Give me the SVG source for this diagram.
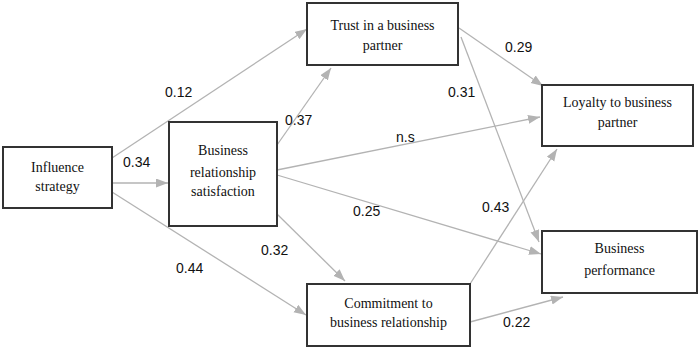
<svg xmlns="http://www.w3.org/2000/svg" width="700" height="355" viewBox="0 0 700 355">
<style>
.box{fill:#fff;stroke:#333;stroke-width:2}
.bt{font-family:"Liberation Serif","Times New Roman",serif;font-size:14px;fill:#111;text-anchor:middle}
.lb{font-family:"Liberation Sans",Arial,sans-serif;font-size:14px;fill:#111}
.ln{stroke:#b3b3b3;stroke-width:1.3;fill:none;marker-end:url(#ah)}
</style>
<defs>
<marker id="ah" markerUnits="userSpaceOnUse" markerWidth="13" markerHeight="10" refX="12" refY="4.5" orient="auto">
<path d="M0,0 L12,4.5 L0,9 z" fill="#b3b3b3"/>
</marker>
</defs>
<rect width="700" height="355" fill="#fff"/>
<g id="connectors">
<line class="ln" x1="112" y1="158" x2="307" y2="29"/>
<line class="ln" x1="112" y1="183" x2="168" y2="183"/>
<line class="ln" x1="112" y1="192" x2="306" y2="315"/>
<line class="ln" x1="277" y1="145" x2="331" y2="68"/>
<line class="ln" x1="277" y1="170" x2="540" y2="117"/>
<line class="ln" x1="277" y1="175" x2="541" y2="254"/>
<line class="ln" x1="277" y1="214" x2="345" y2="281"/>
<line class="ln" x1="459" y1="28" x2="543" y2="86"/>
<line class="ln" x1="461" y1="37" x2="539" y2="242"/>
<line class="ln" x1="470" y1="284" x2="557" y2="149"/>
<line class="ln" x1="470" y1="322" x2="563" y2="297"/>
</g>
<g id="labels">
<text class="lb" x="165" y="97">0.12</text>
<text class="lb" x="123" y="167">0.34</text>
<text class="lb" x="176" y="273">0.44</text>
<text class="lb" x="285" y="125">0.37</text>
<text class="lb" x="396" y="142">n.s</text>
<text class="lb" x="353" y="216">0.25</text>
<text class="lb" x="261" y="255">0.32</text>
<text class="lb" x="505" y="52">0.29</text>
<text class="lb" x="448" y="97">0.31</text>
<text class="lb" x="482" y="212">0.43</text>
<text class="lb" x="503" y="327">0.22</text>
</g>
<g id="influence">
<rect class="box" x="3" y="147" width="109" height="61"/>
<text class="bt" x="57.5" y="172">Influence</text>
<text class="bt" x="57.5" y="191">strategy</text>
</g>
<g id="satisfaction">
<rect class="box" x="169" y="122" width="108" height="104"/>
<text class="bt" x="223" y="155">Business</text>
<text class="bt" x="223" y="177">relationship</text>
<text class="bt" x="223" y="196">satisfaction</text>
</g>
<g id="trust">
<rect class="box" x="307" y="3" width="151" height="62"/>
<text class="bt" x="382.5" y="30">Trust in a business</text>
<text class="bt" x="382.5" y="50">partner</text>
</g>
<g id="loyalty">
<rect class="box" x="542" y="85" width="151" height="61"/>
<text class="bt" x="617.5" y="107">Loyalty to business</text>
<text class="bt" x="617.5" y="127">partner</text>
</g>
<g id="performance">
<rect class="box" x="542" y="231" width="155" height="62"/>
<text class="bt" x="619.5" y="253">Business</text>
<text class="bt" x="619.5" y="275">performance</text>
</g>
<g id="commitment">
<rect class="box" x="307" y="284" width="163" height="62"/>
<text class="bt" x="388.5" y="308">Commitment to</text>
<text class="bt" x="388.5" y="327">business relationship</text>
</g>
</svg>
